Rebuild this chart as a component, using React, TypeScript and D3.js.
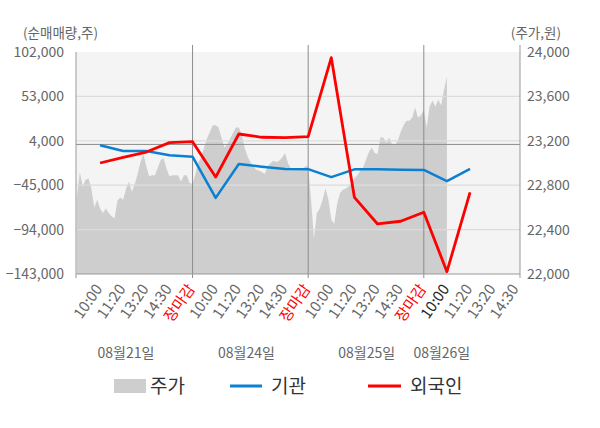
import React, { useRef, useEffect } from "react";
import * as d3 from "d3";

// x labels, one per slot (4 trading days, last one still open)
const timeLabels = [
  "10:00", "11:20", "13:20", "14:30", "장마감",
  "10:00", "11:20", "13:20", "14:30", "장마감",
  "10:00", "11:20", "13:20", "14:30", "장마감",
  "10:00", "11:20", "13:20", "14:30",
];
const closeSlots = [4, 9, 14];
const currentSlot = 15;

const dayLabels = ["08월21일", "08월24일", "08월25일", "08월26일"];
const daySlots = [1.12, 6.33, 11.53, 14.78];

const leftTicks = [-143000, -94000, -45000, 4000, 53000, 102000];
const rightTicks = [22000, 22400, 22800, 23200, 23600, 24000];

// net buying, per slot
const institution = [
  -1000, -7300, -7300, -12000, -13500,
  -59000, -21600, -24600, -27100, -27300,
  -36100, -27500, -27500, -28000, -28200,
  -40400, -27100,
];
const foreign = [
  -20500, -14200, -8400, 2000, 3000,
  -36000, 11500, 7900, 7600, 8500,
  95700, -58500, -87800, -84800, -74900,
  -140400, -52800,
];

// stock price, sampled every 1/8 slot from the open of 08/21
const priceStep = 1 / 8;
const price = [
  22700, 22920, 22790, 22850, 22860, 22770, 22600, 22670, 22590, 22550,
  22590, 22550, 22520, 22500, 22660, 22690, 22670, 22770, 22830, 22740,
  22810, 22900, 23010, 23080, 22970, 22880, 22890, 22890, 22960, 23030,
  23040, 22950, 22880, 22890, 22890, 22890, 22830, 22890, 22890, 22820,
  22810, 22900, 23010, 23050, 23140, 23220, 23280, 23340, 23340, 23320,
  23230, 23140, 23170, 23220, 23270, 23320, 23320, 23260, 23140, 23060,
  23010, 22970, 22940, 22930, 22920, 22900, 22970, 23000, 23020, 23010,
  23020, 23050, 23090, 23000, 22950, 22950, 22940, 22940, 22940, 22970,
  22970, 22670, 22320, 22550, 22590, 22670, 22770, 22670, 22490, 22450,
  22630, 22730, 22760, 22770, 22790, 22820, 22860, 22890, 22930, 22960,
  23030, 23100, 23140, 23090, 23080, 23230, 23230, 23180, 23230, 23170,
  23160, 23200, 23280, 23340, 23380, 23380, 23410, 23500, 23410, 23430,
  23480, 23320, 23510, 23560, 23510, 23570, 23520, 23660, 23780,
];

const FONT = '"Noto Sans CJK KR", "Noto Sans", sans-serif';

const App = () => {
  const ref = useRef<SVGSVGElement>(null);

  useEffect(() => {
    document.body.style.margin = "0";
    const left = 76, right = 520, top = 52, bottom = 274;

    const svg = d3.select(ref.current);
    svg.selectAll("*").remove();

    const x = d3.scaleLinear().domain([-1.04, 18.16]).range([left, right]);
    const yL = d3.scaleLinear().domain([-143000, 102000]).range([bottom, top]);
    const yR = d3.scaleLinear().domain([22000, 24000]).range([bottom, top]);

    svg.append("rect")
      .attr("x", left).attr("y", top)
      .attr("width", right - left).attr("height", bottom - top)
      .attr("fill", "#f4f4f4");

    const area = d3.area<number>()
      .x((_, i) => x(-1 + i * priceStep))
      .y0(yR(22000))
      .y1(d => yR(d));
    svg.append("path").datum(price).attr("d", area).attr("fill", "#cecece");

    // horizontal grid
    svg.append("g").selectAll("line")
      .data(leftTicks.slice(1, -1))
      .join("line")
      .attr("x1", left).attr("x2", right)
      .attr("y1", d => yL(d)).attr("y2", d => yL(d))
      .attr("stroke", "#dcdcdc").attr("stroke-width", 1.2);

    svg.append("line")
      .attr("x1", left).attr("x2", right)
      .attr("y1", yL(0)).attr("y2", yL(0))
      .attr("stroke", "#8c8c8c").attr("stroke-width", 1);

    // day separators
    svg.append("g").selectAll("line")
      .data(closeSlots)
      .join("line")
      .attr("x1", d => x(d)).attr("x2", d => x(d))
      .attr("y1", top - 7).attr("y2", bottom + 4)
      .attr("stroke", "#8c8c8c").attr("stroke-width", 1);

    // frame
    svg.append("line")
      .attr("x1", left).attr("x2", left).attr("y1", top).attr("y2", bottom + 4)
      .attr("stroke", "#999");
    svg.append("line")
      .attr("x1", right).attr("x2", right).attr("y1", top - 7).attr("y2", bottom + 4)
      .attr("stroke", "#999");
    svg.append("line")
      .attr("x1", left).attr("x2", right).attr("y1", bottom).attr("y2", bottom)
      .attr("stroke", "#999");

    const line = d3.line<number>()
      .x((_, i) => x(i))
      .y(d => yL(d));

    svg.append("path").datum(institution).attr("d", line)
      .attr("fill", "none").attr("stroke", "#0b80d2").attr("stroke-width", 2.5)
      .attr("stroke-linejoin", "round");
    svg.append("path").datum(foreign).attr("d", line)
      .attr("fill", "none").attr("stroke", "#ff0000").attr("stroke-width", 2.8)
      .attr("stroke-linejoin", "round");

    // y tick labels
    svg.append("g").selectAll("text")
      .data(leftTicks)
      .join("text")
      .attr("x", left - 12).attr("y", d => yL(d))
      .attr("dy", "0.35em").attr("text-anchor", "end")
      .attr("font-size", 14).attr("fill", "#666").attr("font-family", FONT)
      .text(d => d3.format(",")(d));

    svg.append("g").selectAll("text")
      .data(rightTicks)
      .join("text")
      .attr("x", right + 7).attr("y", d => yR(d))
      .attr("dy", "0.35em")
      .attr("font-size", 14).attr("fill", "#666").attr("font-family", FONT)
      .text(d => d3.format(",")(d));

    svg.append("text")
      .attr("x", 23).attr("y", 38)
      .attr("font-size", 13.5).attr("fill", "#666").attr("font-family", FONT)
      .text("(순매매량,주)");
    svg.append("text")
      .attr("x", 561).attr("y", 38).attr("text-anchor", "end")
      .attr("font-size", 13.5).attr("fill", "#666").attr("font-family", FONT)
      .text("(주가,원)");

    // x labels
    svg.append("g").selectAll("text")
      .data(timeLabels)
      .join("text")
      .attr("transform", (_, i) => `translate(${x(i) + 3},${bottom + 15}) rotate(-55)`)
      .attr("text-anchor", "end")
      .attr("font-size", 15).attr("font-family", FONT)
      .attr("fill", (d, i) => d === "장마감" ? "#ff0000" : i === currentSlot ? "#222" : "#666")
      .text(d => d);

    svg.append("g").selectAll("text")
      .data(dayLabels)
      .join("text")
      .attr("x", (_, i) => x(daySlots[i])).attr("y", 358)
      .attr("text-anchor", "middle")
      .attr("font-size", 14).attr("fill", "#666").attr("font-family", FONT)
      .text(d => d);

    // legend
    const lg = svg.append("g").attr("font-family", FONT).attr("font-size", 19).attr("fill", "#333");
    lg.append("rect").attr("x", 114).attr("y", 379).attr("width", 32).attr("height", 14).attr("fill", "#cecece");
    lg.append("text").attr("x", 150).attr("y", 393).text("주가");
    lg.append("line").attr("x1", 230).attr("x2", 262).attr("y1", 386).attr("y2", 386)
      .attr("stroke", "#0b80d2").attr("stroke-width", 3);
    lg.append("text").attr("x", 271).attr("y", 393).text("기관");
    lg.append("line").attr("x1", 368).attr("x2", 401).attr("y1", 386).attr("y2", 386)
      .attr("stroke", "#ff0000").attr("stroke-width", 3);
    lg.append("text").attr("x", 410).attr("y", 393).text("외국인");
  }, []);

  return <svg ref={ref} width={600} height={428} style={{ display: "block" }} />;
};

export default App;
